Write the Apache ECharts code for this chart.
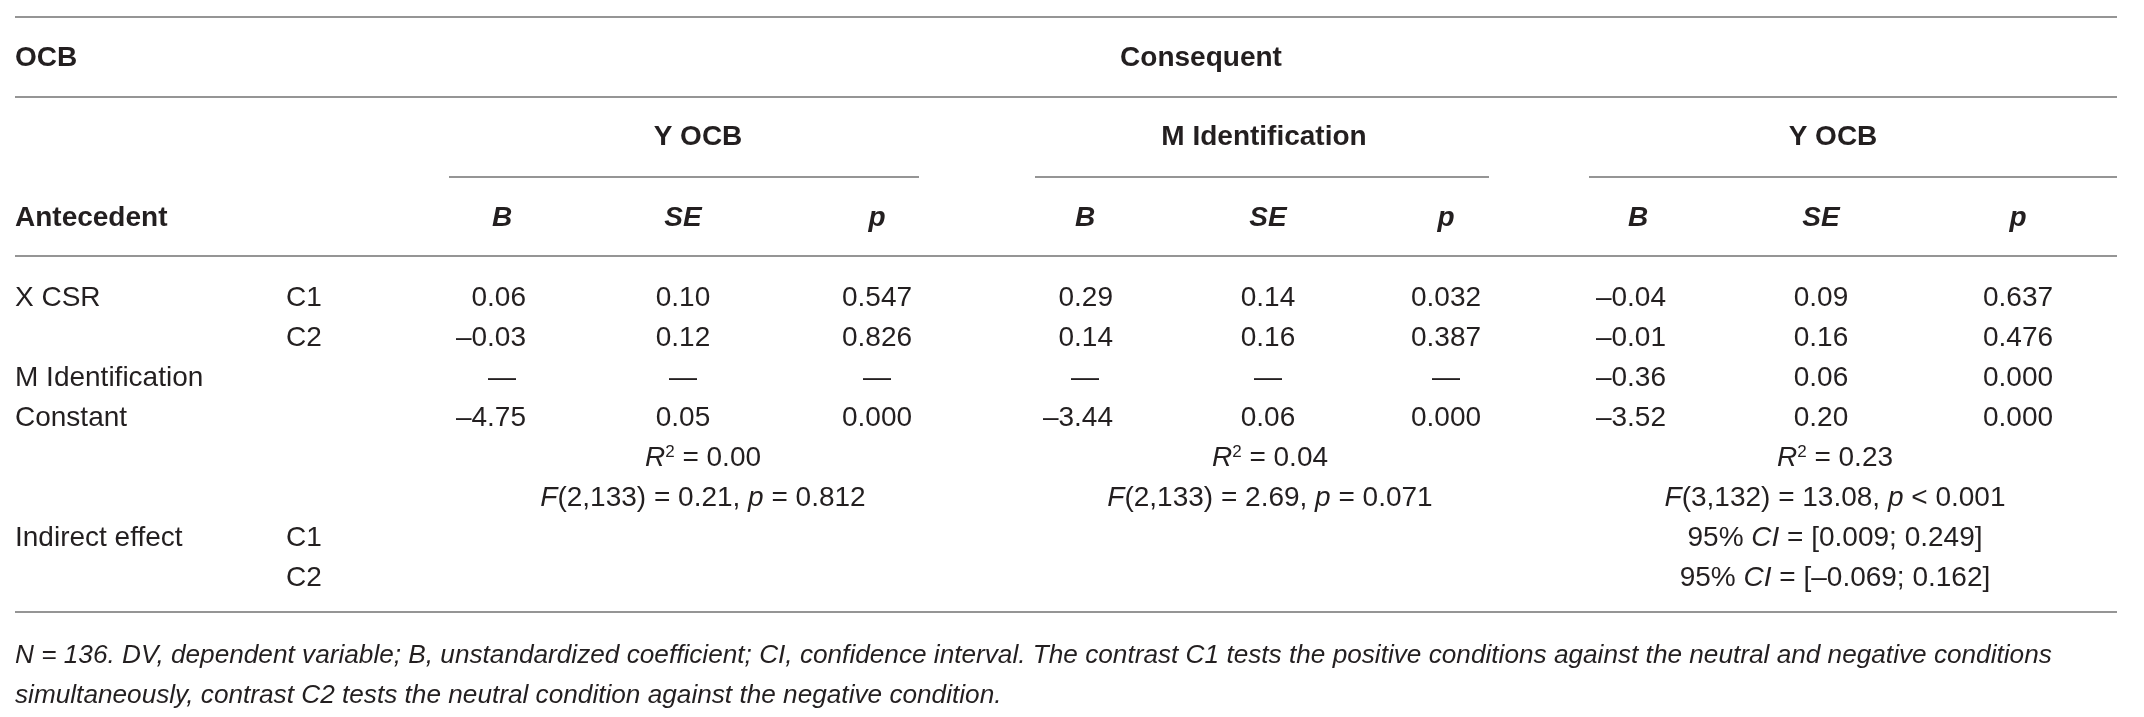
<!DOCTYPE html>
<html>
<head>
<meta charset="utf-8">
<script src="https://cdn.jsdelivr.net/npm/echarts@6/dist/echarts.min.js"></script>
<style>
  html, body { margin: 0; padding: 0; background: #fff; }
  #main { width: 2144px; height: 717px; }
</style>
</head>
<body>
<div id="main"></div>
<script>
// ---- table content ----
const antecedents = ['X CSR', '', 'M Identification', 'Constant'];
const contrasts = ['C1', 'C2', '', ''];
const indirectLabel = 'Indirect effect';
const indirectContrasts = ['C1', 'C2'];
const consequents = ['Y OCB', 'M Identification', 'Y OCB'];
const statHeaders = ['B', 'SE', 'p'];

// coefficients per model, null = predictor not in the model
const yOcbB = [0.06, -0.03, null, -4.75];
const yOcbSE = [0.10, 0.12, null, 0.05];
const yOcbP = [0.547, 0.826, null, 0.000];
const identB = [0.29, 0.14, null, -3.44];
const identSE = [0.14, 0.16, null, 0.06];
const identP = [0.032, 0.387, null, 0.000];
const yOcb2B = [-0.04, -0.01, -0.36, -3.52];
const yOcb2SE = [0.09, 0.16, 0.06, 0.20];
const yOcb2P = [0.637, 0.476, 0.000, 0.000];

// model fit
const rSquared = [0.00, 0.04, 0.23];
const fDf = ['2,133', '2,133', '3,132'];
const fValue = [0.21, 2.69, 13.08];
const fPSign = ['=', '=', '<'];
const fP = [0.812, 0.071, 0.001];

// bootstrap CI of the indirect effect
const ciLow = [0.009, -0.069];
const ciHigh = [0.249, 0.162];

const footnote = [
  'N = 136. DV, dependent variable; B, unstandardized coefficient; CI, confidence interval. The contrast C1 tests the positive conditions against the neutral and negative conditions',
  'simultaneously, contrast C2 tests the neutral condition against the negative condition.'
];

// ---- layout (pixels) ----
const W = 2144, H = 717;
const xLabel = 15, xContrast = 286, xRight = 2117;
const groups = [
  { head: 698, bHead: 502, bRight: 526, se: 683, p: 877, stat: 703, from: 449, to: 919 },
  { head: 1264, bHead: 1085, bRight: 1113, se: 1268, p: 1446, stat: 1270, from: 1035, to: 1489 },
  { head: 1833, bHead: 1638, bRight: 1666, se: 1821, p: 2018, stat: 1835, from: 1589, to: 2117 }
];
const yTitle = 58, yGroup = 137, yHead = 218;
const yBody = [298, 338, 378, 418];
const yR2 = 458, yF = 498;
const yIndirect = [538, 578];
const yFoot = [656, 696];
const ruleFull = [17, 97, 256, 612];
const ruleGroup = 177;

const ink = '#231f20';
const fmt = (v, d) => v === null ? '—' : v.toFixed(d).replace('-', '–');

// ---- build cells ----
const cells = [];
function cell(x, y, text, align, kind) { cells.push({ x, y, text, align: align || 'left', kind: kind || 'n' }); }

cell(xLabel, yTitle, 'OCB', 'left', 'b');
cell(1201, yTitle, 'Consequent', 'center', 'b');
cell(xLabel, yHead, 'Antecedent', 'left', 'b');

const models = [
  [yOcbB, yOcbSE, yOcbP],
  [identB, identSE, identP],
  [yOcb2B, yOcb2SE, yOcb2P]
];
groups.forEach((g, gi) => {
  cell(g.head, yGroup, consequents[gi], 'center', 'b');
  cell(g.bHead, yHead, statHeaders[0], 'center', 'bi');
  cell(g.se, yHead, statHeaders[1], 'center', 'bi');
  cell(g.p, yHead, statHeaders[2], 'center', 'bi');
  const [bs, ses, ps] = models[gi];
  yBody.forEach((y, ri) => {
    if (bs[ri] === null) cell(g.bHead, y, '—', 'center');
    else cell(g.bRight, y, fmt(bs[ri], 2), 'right');
    cell(g.se, y, fmt(ses[ri], 2), 'center');
    cell(g.p, y, fmt(ps[ri], 3), 'center');
  });
  cell(g.stat, yR2, '{i|R}{sup|2} = ' + fmt(rSquared[gi], 2), 'center');
  cell(g.stat, yF, '{i|F}(' + fDf[gi] + ') = ' + fmt(fValue[gi], 2) + ', {i|p} ' + fPSign[gi] + ' ' + fmt(fP[gi], 3), 'center');
});

yBody.forEach((y, ri) => {
  if (antecedents[ri]) cell(xLabel, y, antecedents[ri]);
  if (contrasts[ri]) cell(xContrast, y, contrasts[ri]);
});
cell(xLabel, yIndirect[0], indirectLabel);
yIndirect.forEach((y, i) => {
  cell(xContrast, y, indirectContrasts[i]);
  cell(groups[2].stat, y, '95% {i|CI} = [' + fmt(ciLow[i], 3) + '; ' + fmt(ciHigh[i], 3) + ']', 'center');
});
yFoot.forEach((y, i) => cell(xLabel, y, footnote[i], 'left', 'i'));

const rules = ruleFull.map(y => [xLabel, y, xRight]);
groups.forEach(g => rules.push([g.from, ruleGroup, g.to]));

// ---- chart ----
const chart = echarts.init(document.getElementById('main'));
const rich = {
  i: { fontStyle: 'italic', fontSize: 28, fontFamily: 'Liberation Sans', color: ink },
  sup: { fontSize: 17, fontFamily: 'Liberation Sans', verticalAlign: 'top', color: ink }
};
chart.setOption({
  backgroundColor: '#fff',
  animation: false,
  grid: { left: 0, right: 0, top: 0, bottom: 0 },
  xAxis: { type: 'value', min: 0, max: W, show: false },
  yAxis: { type: 'value', min: 0, max: H, inverse: true, show: false },
  series: [
    {
      type: 'custom',
      data: rules,
      silent: true,
      renderItem: (params, api) => {
        const a = api.coord([api.value(0), api.value(1)]);
        const b = api.coord([api.value(2), api.value(1)]);
        return {
          type: 'line',
          shape: { x1: a[0], y1: a[1], x2: b[0], y2: b[1] },
          style: { stroke: '#959595', lineWidth: 2 }
        };
      }
    },
    {
      type: 'custom',
      data: cells.map(c => [c.x, c.y]),
      silent: true,
      renderItem: (params, api) => {
        const c = cells[params.dataIndex];
        const p = api.coord([api.value(0), api.value(1)]);
        return {
          type: 'text',
          style: {
            text: c.text,
            x: p[0],
            y: p[1],
            align: c.align,
            verticalAlign: 'middle',
            fontFamily: 'Liberation Sans',
            fontSize: c.kind === 'i' ? 26.2 : 28,
            fontWeight: c.kind === 'b' || c.kind === 'bi' ? 'bold' : 'normal',
            fontStyle: c.kind === 'i' || c.kind === 'bi' ? 'italic' : 'normal',
            fill: ink,
            rich: rich
          }
        };
      }
    }
  ]
});
</script>
</body>
</html>
